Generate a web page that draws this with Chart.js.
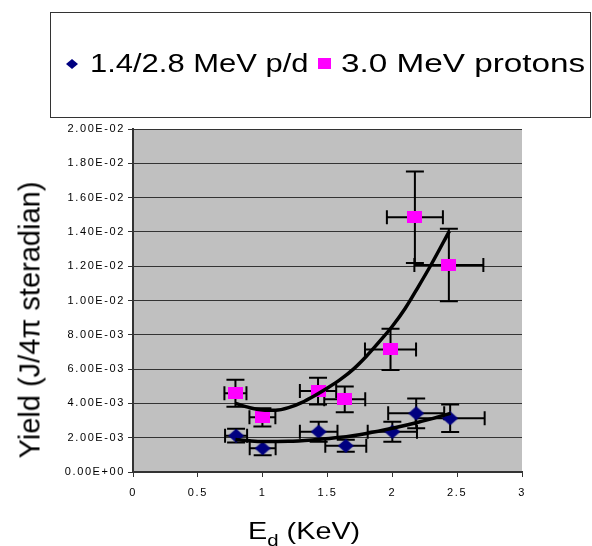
<!DOCTYPE html>
<html>
<head>
<meta charset="utf-8">
<script src="https://cdn.jsdelivr.net/npm/chart.js@4"></script>
<style>
    body { margin: 0; background: #fff; font-family: 'Liberation Sans', Arial, sans-serif; }
    #wrap { position: relative; width: 592px; height: 546px; overflow: hidden; }
    #chart { position: absolute; left: 0; top: 0; }
    .legend-box { position: absolute; left: 50px; top: 12px; width: 539px; height: 104px; border: 1px solid #333; }
    .legend-text { position: absolute; font-size: 26px; line-height: 26px; white-space: nowrap; transform-origin: left center; color: #000; }
    .mark { position: absolute; }
    .y-title { position: absolute; left: 30px; top: 320px; font-size: 29px; line-height: 29px; white-space: nowrap; transform: translate(-50%, -50%) rotate(-90deg); color: #000; }
    .x-title { position: absolute; left: 248px; top: 519px; font-size: 24px; line-height: 24px; white-space: nowrap; transform: scaleX(1.2); transform-origin: left center; color: #000; }
    .x-title span { font-size: 17px; position: relative; top: 7px; }
</style>
</head>
<body>
<div id="wrap">
    <canvas id="chart" width="592" height="546"></canvas>
    <div class="legend-box"></div>
    <div class="mark" style="left:66px; top:59px; width:12px; height:10px; background:#000080; clip-path: polygon(50% 0, 100% 50%, 50% 100%, 0 50%);"></div>
    <div class="legend-text" style="left:90px; top:50px; transform: scaleX(1.19);">1.4/2.8 MeV p/d</div>
    <div class="mark" style="left:318px; top:58px; width:13px; height:11px; background:#ff00ff;"></div>
    <div class="legend-text" style="left:341px; top:50px; transform: scaleX(1.28);">3.0 MeV protons</div>
    <div class="y-title">Yield (J/4π steradian)</div>
    <div class="x-title">E<span>d</span> (KeV)</div>
</div>
<script>
// E_d (KeV) of each point
const energyPD = [0.795, 1.0, 1.432, 1.641, 2.0, 2.184, 2.446];
const yieldPD = [2.12e-3, 1.38e-3, 2.35e-3, 1.53e-3, 2.35e-3, 3.42e-3, 3.13e-3];
const xErrPD = [0.085, 0.1, 0.145, 0.158, 0.19, 0.216, 0.266];
const yErrPD = [0.4e-3, 0.4e-3, 0.58e-3, 0.35e-3, 0.58e-3, 0.87e-3, 0.8e-3];

const energyP = [0.79, 0.998, 1.427, 1.633, 1.986, 2.174, 2.436];
const yieldP = [4.59e-3, 3.19e-3, 4.72e-3, 4.24e-3, 7.15e-3, 14.85e-3, 12.07e-3];
const xErrP = [0.085, 0.1, 0.14, 0.158, 0.197, 0.216, 0.266];
const yErrP = [0.79e-3, 0.53e-3, 0.78e-3, 0.75e-3, 1.2e-3, 2.67e-3, 2.12e-3];

// trend lines
const fitPDx = [0.79, 0.9, 1.0, 1.2, 1.4, 1.6, 1.8, 2.0, 2.2, 2.45];
const fitPDy = [1.9e-3, 1.82e-3, 1.78e-3, 1.79e-3, 1.88e-3, 2.02e-3, 2.25e-3, 2.55e-3, 2.9e-3, 3.42e-3];
const fitPx = [0.79, 0.9, 1.0, 1.1, 1.2, 1.3, 1.4, 1.5, 1.6, 1.7, 1.8, 1.9, 2.0, 2.1, 2.2, 2.3, 2.44];
const fitPy = [4.0e-3, 3.75e-3, 3.62e-3, 3.6e-3, 3.75e-3, 4.05e-3, 4.45e-3, 4.9e-3, 5.4e-3, 6.0e-3, 6.75e-3, 7.6e-3, 8.5e-3, 9.55e-3, 10.8e-3, 12.1e-3, 14.05e-3];

const xTicksStep = 0.5;
const yTicksStep = 0.002;

function toPoints(xs, ys) {
    return xs.map((x, i) => ({ x: x, y: ys[i] }));
}

// Excel style 2.00E-02
function sci(v) {
    const parts = Number(v).toExponential(2).split('e');
    const n = parseInt(parts[1], 10);
    return parts[0] + 'E' + (n < 0 ? '-' : '+') + String(Math.abs(n)).padStart(2, '0');
}

function markerImage(kind) {
    const c = document.createElement('canvas');
    const g = c.getContext('2d');
    if (kind === 'diamond') {
        c.width = 16; c.height = 14;
        g.fillStyle = '#000080';
        g.beginPath();
        g.moveTo(8, 0); g.lineTo(16, 7); g.lineTo(8, 14); g.lineTo(0, 7);
        g.closePath();
        g.fill();
    } else {
        c.width = 15; c.height = 12;
        g.fillStyle = '#ff00ff';
        g.fillRect(0, 0, 15, 12);
    }
    return c;
}

const plotBackground = {
    id: 'plotBackground',
    beforeDraw(chart) {
        const { ctx, chartArea: a } = chart;
        ctx.save();
        ctx.fillStyle = '#c0c0c0';
        ctx.fillRect(a.left, a.top, a.right - a.left, a.bottom - a.top);
        ctx.restore();
        ctx.letterSpacing = '1.6px';
    },
    afterDraw(chart) {
        chart.ctx.letterSpacing = '0px';
    }
};

const errorBars = {
    id: 'errorBars',
    beforeDatasetsDraw(chart) {
        const { ctx, scales } = chart;
        ctx.save();
        ctx.strokeStyle = '#000';
        ctx.lineWidth = 2;
        chart.data.datasets.forEach(ds => {
            if (!ds.errX) return;
            ds.data.forEach((p, i) => {
                const px = scales.x.getPixelForValue(p.x);
                const py = scales.y.getPixelForValue(p.y);
                const x1 = scales.x.getPixelForValue(p.x - ds.errX[i]);
                const x2 = scales.x.getPixelForValue(p.x + ds.errX[i]);
                const y1 = scales.y.getPixelForValue(p.y - ds.errY[i]);
                const y2 = scales.y.getPixelForValue(p.y + ds.errY[i]);
                ctx.beginPath();
                ctx.moveTo(x1, py); ctx.lineTo(x2, py);
                ctx.moveTo(x1, py - 7); ctx.lineTo(x1, py + 7);
                ctx.moveTo(x2, py - 7); ctx.lineTo(x2, py + 7);
                ctx.moveTo(px, y1); ctx.lineTo(px, y2);
                ctx.moveTo(px - 9, y1); ctx.lineTo(px + 9, y1);
                ctx.moveTo(px - 9, y2); ctx.lineTo(px + 9, y2);
                ctx.stroke();
            });
        });
        ctx.restore();
    }
};

const tickFont = { family: "'Liberation Sans', Arial, sans-serif", size: 11 };

new Chart(document.getElementById('chart'), {
    type: 'scatter',
    data: {
        datasets: [
            {
                label: '1.4/2.8 MeV p/d',
                data: toPoints(energyPD, yieldPD),
                errX: xErrPD,
                errY: yErrPD,
                pointStyle: markerImage('diamond'),
                order: 2
            },
            {
                label: '3.0 MeV protons',
                data: toPoints(energyP, yieldP),
                errX: xErrP,
                errY: yErrP,
                pointStyle: markerImage('square'),
                order: 2
            },
            {
                label: 'fit p/d',
                data: toPoints(fitPDx, fitPDy),
                showLine: true,
                borderColor: '#000',
                borderWidth: 3.5,
                pointRadius: 0,
                cubicInterpolationMode: 'monotone',
                order: 1
            },
            {
                label: 'fit protons',
                data: toPoints(fitPx, fitPy),
                showLine: true,
                borderColor: '#000',
                borderWidth: 3.5,
                pointRadius: 0,
                cubicInterpolationMode: 'monotone',
                order: 1
            }
        ]
    },
    options: {
        responsive: false,
        devicePixelRatio: 1,
        animation: false,
        events: [],
        layout: { padding: { top: 129, right: 70, bottom: 0, left: 0 } },
        plugins: {
            legend: { display: false },
            tooltip: { enabled: false }
        },
        scales: {
            x: {
                type: 'linear',
                min: 0,
                max: 3,
                ticks: {
                    stepSize: xTicksStep, color: '#000', font: tickFont, padding: 9, maxRotation: 0,
                    callback: v => String(Number(v.toFixed(1)))
                },
                grid: { drawOnChartArea: false, drawTicks: true, tickLength: 5, color: '#333' },
                border: { color: '#333', width: 2 },
                afterFit: s => { s.height = 74; }
            },
            y: {
                min: 0,
                max: 0.02,
                ticks: { stepSize: yTicksStep, color: '#000', font: tickFont, padding: 3, callback: v => sci(v) },
                grid: { color: '#333', lineWidth: 1, tickLength: 5 },
                border: { color: '#333', width: 2 },
                afterFit: s => { s.width = 133; }
            }
        }
    },
    plugins: [plotBackground, errorBars]
});
</script>
</body>
</html>
